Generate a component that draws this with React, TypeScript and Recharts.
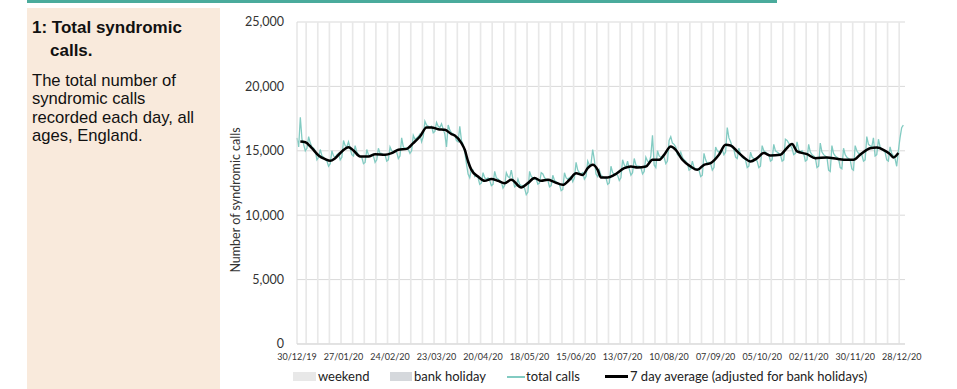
import { ComposedChart, Line, XAxis, YAxis, CartesianGrid, ReferenceArea } from 'recharts';

// Daily total syndromic calls, one row per week (Mon..Sun), starting Mon 30/12/19
const totalCallsByWeek: (number | null)[][] = [
  [16000, 15300, 17600, 15900, 15500, 15000, 15200],
  [16100, 15600, 15300, 15200, 15000, 14300, 14500],
  [15100, 14600, 14500, 14300, 14200, 13800, 14000],
  [15000, 14600, 14500, 14700, 14800, 14300, 14500],
  [15800, 15400, 15300, 15700, 15200, 14700, 14600],
  [15400, 14900, 14700, 14600, 14500, 14000, 14100],
  [15100, 14700, 14600, 14700, 14600, 14100, 14300],
  [15200, 14800, 14800, 14700, 14700, 14200, 14300],
  [15300, 15000, 14900, 15000, 14900, 14400, 14600],
  [16000, 15300, 15200, 15200, 15100, 14800, 15000],
  [16200, 15900, 16000, 16100, 16300, 15700, 16100],
  [17300, 17000, 16900, 16800, 16900, 16400, 16500],
  [17200, 16900, 16800, 17100, 16700, 16300, 15300],
  [17000, 16600, 16400, 16300, 16200, 15800, 15700],
  [16900, 15800, 15500, 14900, 14000, 13200, 12900],
  [13600, 13500, 13000, 13100, 12900, 12400, 12500],
  [13300, 12900, 12800, 12900, 12700, 12300, 12400],
  [13400, 12900, 12800, 12700, 12600, 12100, 12300],
  [13300, 13000, 12900, 13500, 12800, 12200, 12300],
  [12800, 12400, 12300, 12300, 12100, 11600, 11800],
  [13400, 13000, 12900, 12800, 12800, 12400, 12500],
  [13300, 13200, 12900, 12800, 12700, 12200, 12300],
  [13100, 12700, 12600, 12500, 12400, 11900, 12000],
  [13300, 12900, 12800, 12900, 13000, 12600, 12900],
  [14100, 13500, 13300, 13200, 13300, 12800, 13000],
  [14200, 13900, 14000, 15100, 14300, 13200, 13000],
  [13500, 13100, 13000, 12900, 12900, 12400, 12500],
  [13800, 13300, 13200, 13200, 13100, 12700, 12900],
  [14300, 13900, 13700, 14200, 13600, 13100, 13300],
  [14400, 13900, 13800, 13800, 13700, 13200, 13400],
  [14500, 14200, 14100, 14600, 16200, 13900, 13700],
  [15000, 14600, 14500, 14600, 14500, 14000, 14200],
  [15800, 16100, 15600, 15500, 15300, 14700, 14600],
  [14900, 14500, 14300, 14200, 14000, 13500, 13600],
  [14200, 13700, 13600, 13600, 13500, 13000, 13100],
  [14800, 14300, 14000, 14100, 14000, 13500, 13700],
  [15300, 15000, 14900, 15000, 15100, 14700, 14900],
  [16800, 16000, 15700, 15300, 15100, 14500, 14400],
  [15200, 14700, 14500, 14400, 14300, 13700, 13800],
  [14900, 14500, 14400, 14300, 14200, 13700, 13800],
  [15400, 15000, 14900, 14800, 14700, 14200, 14300],
  [15500, 15000, 14900, 14800, 14700, 14200, 14300],
  [15900, 15800, 15600, 15400, 15200, 14700, 14800],
  [15700, 15100, 14900, 15000, 14800, 14200, 14300],
  [15500, 14900, 14700, 14600, 14500, 13700, 13800],
  [15600, 14900, 14700, 14600, 14500, 13500, 13400],
  [15400, 14800, 14600, 14500, 14400, 13700, 13600],
  [15200, 14700, 14500, 14400, 14300, 13600, 13500],
  [15400, 15000, 14800, 14800, 14700, 14200, 14300],
  [16100, 15500, 15400, 15300, 16000, 14600, 14700],
  [15900, 15300, 15100, 15000, 14900, 14300, 14200],
  [15300, 14800, 14600, 14400, 13800, 15000, 16000],
  [16800, 17000, null],
];

// 7 day average (adjusted for bank holidays), read at these day offsets
const avgDay = [
  2, 5, 9, 13, 17, 20, 23, 27, 31, 34, 38, 43, 47, 53, 57, 61, 66, 70, 74, 78, 81, 85, 89, 93, 95,
  99, 101, 103, 105, 109, 113, 117, 121, 125, 129, 135, 139, 143, 147, 151, 155, 160, 164, 168,
  172, 175, 178, 181, 183, 187, 191, 197, 201, 205, 210, 214, 218, 221, 225, 228, 232, 237, 241,
  245, 249, 254, 258, 261, 265, 269, 273, 277, 281, 285, 291, 294, 298, 301, 307, 312, 319, 325,
  331, 335, 339, 345, 349, 353, 357, 359, 362,
];
const avgValue = [
  15720, 15670, 15200, 14640, 14350, 14220, 14430, 14950, 15280, 15030, 14560, 14560, 14740,
  14690, 14820, 15080, 15150, 15600, 16110, 16810, 16810, 16680, 16630, 16300, 16190, 15600,
  15080, 14170, 13520, 13000, 12670, 12820, 12670, 12490, 12750, 12150, 12490, 12880, 12670,
  12750, 12570, 12360, 12750, 13260, 13130, 13650, 13910, 13520, 12930, 12930, 13130, 13650,
  13780, 13700, 13780, 14300, 14300, 14690, 15340, 15080, 14300, 13780, 13520, 13910, 14040,
  14690, 15470, 15410, 14950, 14480, 14170, 14430, 14820, 14640, 14690, 15080, 15520, 14950,
  14740, 14430, 14480, 14380, 14300, 14300, 14690, 15200, 15250, 15080, 14740, 14480, 14820,
];

const bankHolidays = ['01/01/20', '10/04/20', '13/04/20', '08/05/20', '25/05/20', '31/08/20', '25/12/20', '28/12/20'];

const xTicks = [
  '30/12/19', '27/01/20', '24/02/20', '23/03/20', '20/04/20', '18/05/20', '15/06/20',
  '13/07/20', '10/08/20', '07/09/20', '05/10/20', '02/11/20', '30/11/20', '28/12/20',
];
const yTicks = [0, 5000, 10000, 15000, 20000, 25000];

const startUtc = Date.UTC(2019, 11, 30);
const totals = totalCallsByWeek.flat();
const pad = (n: number) => String(n).padStart(2, '0');

const rows = totals.map((total, i) => {
  const d = new Date(startUtc + i * 86400000);
  const date = `${pad(d.getUTCDate())}/${pad(d.getUTCMonth() + 1)}/${pad(d.getUTCFullYear() % 100)}`;
  const k = avgDay.indexOf(i);
  return { date, dow: d.getUTCDay(), total, avg: k >= 0 ? avgValue[k] : null };
});

// Saturday + Sunday pairs
const weekends = rows
  .map((r, i) => ({ r, i }))
  .filter(({ r }) => r.dow === 6)
  .map(({ r, i }) => ({ x1: r.date, x2: rows[i + 1] ? rows[i + 1].date : r.date }));

const TEAL = '#82cbc2';
const WEEKEND = '#e8e8e8';
const BANK = '#d5d8dc';
const chartFont = 'Lato, "Open Sans", sans-serif';

function YLabel() {
  return (
    <text
      x={10}
      y={188}
      transform="rotate(-90 10 188)"
      textAnchor="middle"
      dominantBaseline="central"
      fontSize={12.5}
      fontFamily={chartFont}
      fill="#333"
    >
      Number of syndromic calls
    </text>
  );
}

export default function App() {
  return (
    <div style={{ position: 'absolute', left: 0, top: 0, width: 957, height: 389, background: '#fff', overflow: 'hidden' }}>
      {/* top rule */}
      <div style={{ position: 'absolute', left: 27, top: 0, width: 750, height: 3, background: '#4aab9c' }} />

      {/* side panel */}
      <div
        style={{
          position: 'absolute', left: 27, top: 8, width: 193, height: 381, background: '#f9eadc',
          fontFamily: '"Liberation Sans", Arial, sans-serif', color: '#111',
        }}
      >
        <div style={{ position: 'absolute', left: 5, top: 8, fontWeight: 'bold', fontSize: 17, lineHeight: '23px' }}>
          <div>1: Total syndromic</div>
          <div style={{ paddingLeft: 18 }}>calls.</div>
        </div>
        <div style={{ position: 'absolute', left: 5, top: 64, fontSize: 16.6, lineHeight: '18.4px', width: 190 }}>
          The total number of<br />syndromic calls<br />recorded each day, all<br />ages, England.
        </div>
      </div>

      {/* chart */}
      <div style={{ position: 'absolute', left: 225, top: 12 }}>
        <ComposedChart width={702} height={352} data={rows} margin={{ top: 10, right: 22, bottom: 0, left: 0 }}>
          {weekends.map((w) => (
            <ReferenceArea key={w.x1} x1={w.x1} x2={w.x2} y1={0} y2={25000} fill={WEEKEND} fillOpacity={1} stroke="none" />
          ))}
          {bankHolidays.map((b) => (
            <ReferenceArea key={b} x1={b} x2={b} y1={0} y2={25000} fill={BANK} fillOpacity={1} stroke="none" />
          ))}
          <CartesianGrid vertical={false} stroke="#d9d9d9" />
          <XAxis
            dataKey="date"
            ticks={xTicks}
            interval={0}
            height={20}
            tickLine={false}
            tickMargin={4}
            axisLine={{ stroke: '#d9d9d9' }}
            tick={{ fontSize: 9, fill: '#333', fontFamily: chartFont }}
          />
          <YAxis
            width={72}
            domain={[0, 25000]}
            ticks={yTicks}
            tickLine={false}
            tickMargin={7}
            axisLine={{ stroke: '#d9d9d9' }}
            tickFormatter={(v: number) => v.toLocaleString('en-GB')}
            tick={{ fontSize: 12.5, fill: '#333', fontFamily: chartFont }}
            label={<YLabel />}
          />
          <Line type="linear" dataKey="total" stroke={TEAL} strokeWidth={1.3} dot={false} isAnimationActive={false} />
          <Line
            type="monotone"
            dataKey="avg"
            stroke="#000"
            strokeWidth={2.5}
            dot={false}
            connectNulls
            isAnimationActive={false}
          />
        </ComposedChart>
      </div>

      {/* legend */}
      <div style={{ position: 'absolute', left: 0, top: 367, width: 957, height: 20, fontFamily: chartFont, fontSize: 13, color: '#222' }}>
        <div style={{ position: 'absolute', left: 293, top: 5, width: 23, height: 9, background: WEEKEND }} />
        <div style={{ position: 'absolute', left: 318, top: 1 }}>weekend</div>
        <div style={{ position: 'absolute', left: 390, top: 5, width: 22, height: 9, background: BANK }} />
        <div style={{ position: 'absolute', left: 414, top: 1 }}>bank holiday</div>
        <div style={{ position: 'absolute', left: 507, top: 9, width: 18, height: 1.5, background: TEAL }} />
        <div style={{ position: 'absolute', left: 526, top: 1 }}>total calls</div>
        <div style={{ position: 'absolute', left: 605, top: 8, width: 23, height: 2.5, background: '#000' }} />
        <div style={{ position: 'absolute', left: 630, top: 1 }}>7 day average (adjusted for bank holidays)</div>
      </div>
    </div>
  );
}
